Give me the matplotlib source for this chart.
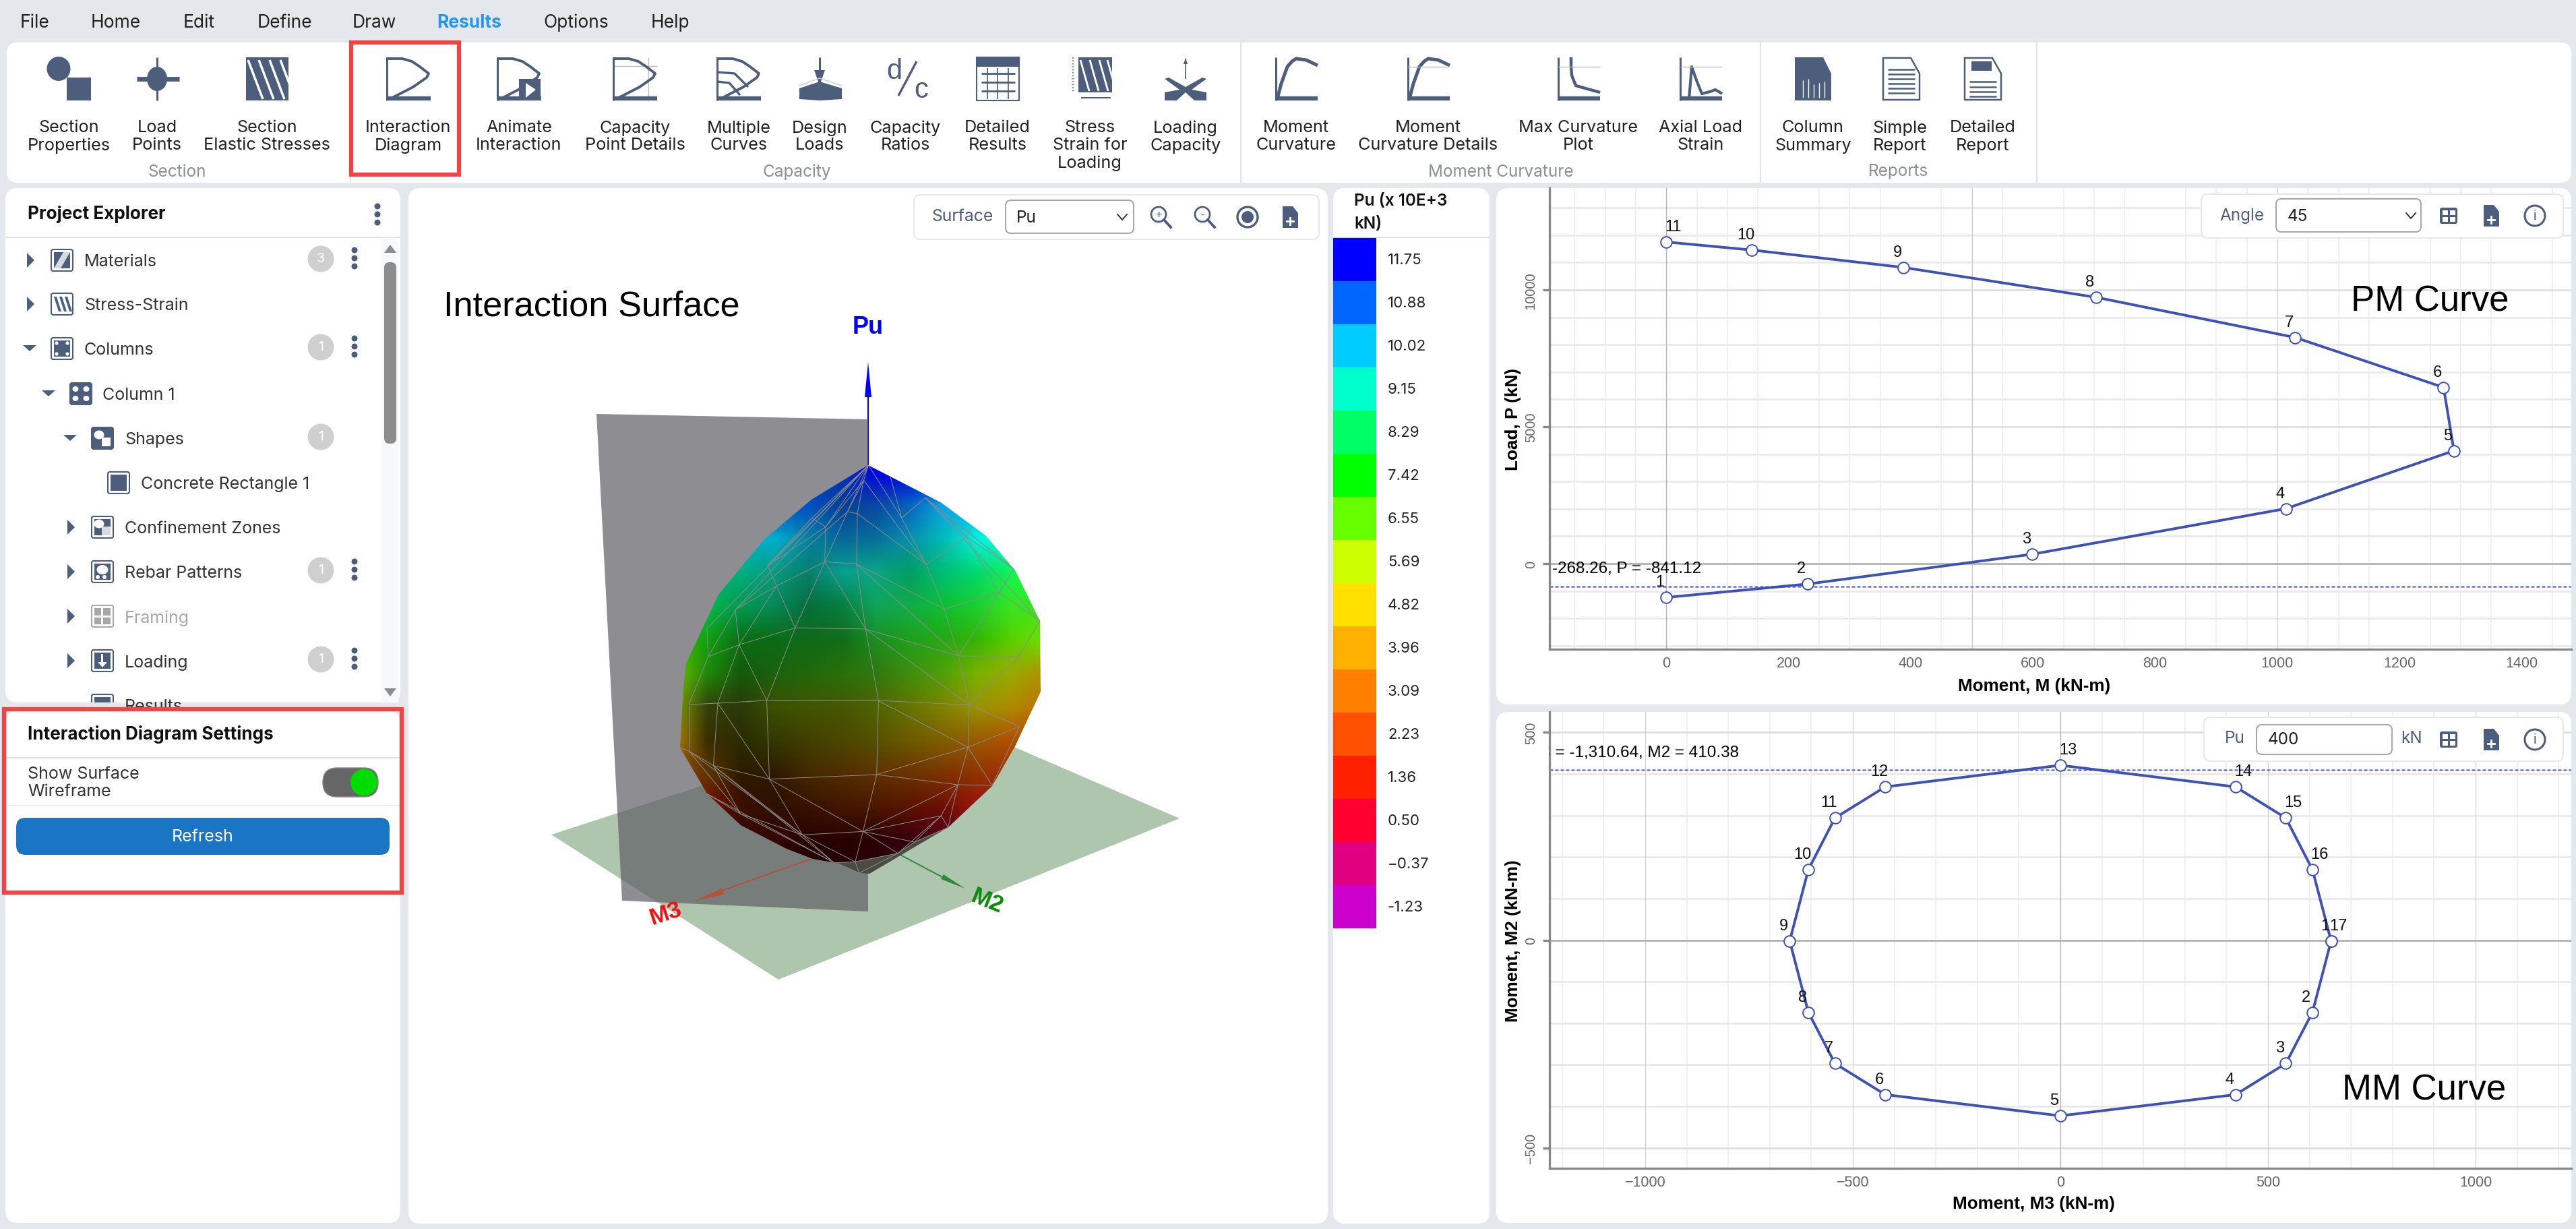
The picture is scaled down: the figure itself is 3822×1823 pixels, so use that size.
import matplotlib
matplotlib.use("Agg")
import matplotlib.pyplot as plt
import numpy as np
from matplotlib.patches import Rectangle, FancyBboxPatch, Polygon, Circle, Ellipse
from matplotlib.ticker import MultipleLocator

W, H = 3823, 1824
UI_FONT = ["Inter", "DejaVu Sans"]
CH_FONT = ["Liberation Sans", "DejaVu Sans"]
SLATE = "#4d5e7c"
BG = "#e4e7ec"
RED = "#f44343"
LINE = "#3f51b5"

# PM curve, angle 45
pm_moment = [0, 231, 599, 1014, 1289, 1272, 1029, 703, 388, 140, 0]
pm_load = [-1236, -747, 343, 2007, 4125, 6438, 8262, 9731, 10820, 11457, 11750]
pm_labels = ["1", "2", "3", "4", "5", "6", "7", "8", "9", "10", "11"]
pm_xticks = [0, 200, 400, 600, 800, 1000, 1200, 1400]
pm_yticks = [0, 5000, 10000]

# MM curve, Pu = 400
mm_m3 = [652, 607, 543, 422, 0, -422, -543, -607, -652, -607, -543, -422, 0, 422, 543, 607, 652]
mm_m2 = [-2, -174, -297, -372, -423, -372, -297, -174, -2, 170, 294, 369, 421, 369, 294, 170, -2]
mm_labels = [str(i) for i in range(1, 18)]
mm_xticks = [-1000, -500, 0, 500, 1000]
mm_yticks = [-500, 0, 500]

legend_values = ["11.75", "10.88", "10.02", "9.15", "8.29", "7.42", "6.55", "5.69", "4.82",
                 "3.96", "3.09", "2.23", "1.36", "0.50", "\u22120.37", "-1.23"]
legend_colors = ["#0000ff", "#0066ff", "#00ccff", "#00ffcc", "#00ff66", "#00ff00", "#66ff00", "#ccff00",
                 "#ffe000", "#ffb000", "#ff8000", "#ff5000", "#ff2000", "#ff0030", "#e00080", "#cc00cc"]

menu_items = [("File", 52), ("Home", 172), ("Edit", 295), ("Define", 422), ("Draw", 555),
              ("Results", 696), ("Options", 855), ("Help", 994)]
ribbon_buttons = [
    (102, ["Section", "Properties"]), (233, ["Load", "Points"]), (396, ["Section", "Elastic Stresses"]),
    (606, ["Interaction", "Diagram"]), (770, ["Animate", "Interaction"]), (942, ["Capacity", "Point Details"]),
    (1096, ["Multiple", "Curves"]), (1216, ["Design", "Loads"]), (1343, ["Capacity", "Ratios"]),
    (1480, ["Detailed", "Results"]), (1617, ["Stress", "Strain for", "Loading"]), (1759, ["Loading", "Capacity"]),
    (1923, ["Moment", "Curvature"]), (2119, ["Moment", "Curvature Details"]), (2342, ["Max Curvature", "Plot"]),
    (2523, ["Axial Load", "Strain"]), (2690, ["Column", "Summary"]), (2819, ["Simple", "Report"]),
    (2942, ["Detailed", "Report"])]
ribbon_groups = [("Section", 263), ("Capacity", 1182), ("Moment Curvature", 2227), ("Reports", 2817)]

# label, indent of text, arrow x, arrow kind, icon x, badge, dots, row y
tree_rows = [
    ("Materials", 125, 45, ">", 92, "3", True, 387),
    ("Stress-Strain", 125, 45, ">", 92, "", False, 452),
    ("Columns", 125, 44, "v", 92, "1", True, 518),
    ("Column 1", 152, 72, "v", 120, "", False, 585),
    ("Shapes", 185, 104, "v", 152, "1", False, 651),
    ("Concrete Rectangle 1", 209, 0, "", 176, "", False, 717),
    ("Confinement Zones", 185, 105, ">", 152, "", False, 783),
    ("Rebar Patterns", 185, 105, ">", 152, "1", True, 849),
    ("Framing", 185, 105, ">", 152, "", False, 915),
    ("Loading", 185, 105, ">", 152, "1", True, 981),
    ("Results", 185, 105, "", 152, "", False, 1047)]

# surface outline and colours
surface_outline = [(1288, 691), (1374, 735), (1397, 747), (1428, 770), (1462, 795), (1506, 847), (1543, 922),
                   (1544, 1027), (1506, 1108), (1472, 1167), (1407, 1228), (1357, 1250), (1332, 1267), (1269, 1279),
                   (1240, 1281), (1206, 1275), (1167, 1260), (1099, 1225), (1049, 1178), (1009, 1110), (1014, 1020),
                   (1018, 985), (1066, 883), (1133, 802), (1204, 742)]
surface_under = [(1240, 1281), (1275, 1296), (1290, 1297), (1407, 1228), (1357, 1250), (1332, 1267), (1269, 1279)]
surface_colors = [
    ["#0030c0", "#0030c0", "#0030c0", "#0030c0", "#0030c0", "#0030c0", "#0000e0", "#0000e0", "#0000e0", "#0000e0", "#0000e0", "#0000e0"],
    ["#0050c8", "#0050c8", "#0050c8", "#0050c8", "#0050c8", "#053f96", "#0a46a4", "#0562bd", "#09a5e8", "#09a5e8", "#09a5e8", "#09a5e8"],
    ["#00b0d0", "#00b0d0", "#00b0d0", "#00b0d0", "#0680a0", "#06679a", "#06709a", "#0890b0", "#03bab8", "#00f5e0", "#00f5e0", "#00f5e0"],
    ["#00b080", "#00b080", "#00b080", "#069a80", "#08806c", "#08a090", "#0ba584", "#009e62", "#00bf78", "#02d870", "#12f552", "#12f552"],
    ["#05b84a", "#05b84a", "#009a50", "#078858", "#056e3c", "#087e3f", "#10a558", "#12ac4a", "#0cc030", "#1ad02f", "#38e520", "#38e520"],
    ["#40c000", "#10a010", "#0b6e14", "#0c6b15", "#0f6a1a", "#126d18", "#1b8e20", "#20a01c", "#28a815", "#36b405", "#58d000", "#70e000"],
    ["#70c000", "#1f8a08", "#125a0a", "#1c620e", "#20680a", "#2a700a", "#307810", "#3f8e0e", "#50a008", "#78b200", "#9aaa00", "#b09000"],
    ["#80a000", "#34400a", "#2b3a08", "#3d5000", "#425600", "#465700", "#506400", "#657400", "#808300", "#979400", "#ae8a00", "#c07000"],
    ["#b08000", "#3a2e00", "#2c2c00", "#333800", "#423f00", "#4b4700", "#565000", "#6d5a00", "#7f5e00", "#9a5a00", "#b04e00", "#b04e00"],
    ["#a04000", "#5d3600", "#2b1a00", "#2e1a00", "#452800", "#512c00", "#5e3200", "#6b3200", "#7c3200", "#8e3200", "#a03000", "#a03000"],
    ["#800800", "#800800", "#3b0e00", "#2d1000", "#381000", "#421600", "#4a1500", "#5a1200", "#6c0d05", "#a01010", "#a01010", "#a01010"],
    ["#380505", "#380505", "#380505", "#380505", "#240000", "#280000", "#2a0005", "#350010", "#500020", "#500020", "#500020", "#500020"],
    ["#240000", "#240000", "#240000", "#240000", "#240000", "#240000", "#2a0005", "#350010", "#500020", "#500020", "#500020", "#500020"]]

# wireframe, top half and lower half, in crop coordinates of the surface
top_nodes = dict(A=(806, 63), B=(788, 130), C=(725, 270), D=(763, 278), E=(640, 338), F=(587, 298), G=(637, 493),
                 H=(760, 503), I=(450, 600), J=(415, 510), K=(290, 707), L=(305, 862), M=(185, 915), N=(522, 787),
                 O=(795, 792), P=(412, 1110), Q=(845, 1110), R=(1197, 1130), S=(110, 1128), T=(222, 1122),
                 U=(1100, 703), V=(1155, 912), W=(1388, 918), X=(1313, 630), Y=(1030, 505), Z=(1185, 382),
                 a=(1027, 208), b=(935, 298), c=(1370, 525), d=(1470, 755), e=(1205, 340), f=(180, 790), g=(890, 110))
top_edges = ["AB", "AC", "AJ", "AK", "Af", "AE", "AF", "BC", "BD", "BE", "BY", "Ab", "gb", "bY", "ba", "YZ", "Ze", "aZ",
             "ZX", "Xc", "Zc", "XU", "XV", "Xd", "VW", "Wd", "DY", "DH", "CD", "CG", "EG", "EF", "EJ", "GH", "GN", "GI",
             "GO", "HO", "HU", "HV", "IJ", "IN", "IK", "IL", "KL", "KC", "KM", "LM", "LN", "LT", "LP", "NP", "NO", "OQ",
             "OV", "OR", "UV", "UY", "VR", "WR", "PQ", "QR", "ST", "TP", "SM", "Mf", "FJ", "ad", "ac"]
low_nodes = dict(P=(412, 122), Q=(845, 122), R=(1197, 140), S=(110, 140), T=(222, 132), a=(205, 410), b=(422, 470),
                 c=(838, 450), d=(1192, 328), e=(1392, 235), f=(1153, 495), g=(1285, 498), h=(785, 703), i=(550, 718),
                 j=(1088, 633), k=(1115, 685), l=(310, 625), m=(180, 535), n=(110, 345), o=(75, 330), p=(670, 840),
                 q=(755, 838), r=(920, 800), s=(985, 750), t=(770, 888), u=(680, 842))
low_edges = ["Sn", "Pb", "Qc", "Rd", "Re", "ed", "Qd", "cd", "bc", "ab", "Ta", "Tb", "an", "no", "dg", "df", "eg", "cf",
             "fg", "fh", "ch", "bh", "bi", "ih", "ai", "al", "ap", "nl", "ni", "li", "ml", "lp", "ip", "iq", "hq", "hj",
             "fj", "fk", "jk", "js", "hs", "hr", "jr", "qr", "rs", "uq", "qt", "rt", "ut", "pu", "mp", "ks"]

fig = plt.figure(figsize=(W / 100, H / 100), dpi=100, facecolor=BG)


def pixel_axes(z):
    a = fig.add_axes([0, 0, 1, 1], zorder=z, facecolor="none")
    a.set_xlim(0, W)
    a.set_ylim(H, 0)
    a.axis("off")
    return a


ui = pixel_axes(0)
top = pixel_axes(5)


def panel(ax, x0, y0, x1, y1, r=18, fc="white", ec="none", lw=0, z=1):
    p = FancyBboxPatch((x0 + r, y0 + r), x1 - x0 - 2 * r, y1 - y0 - 2 * r, boxstyle=f"round,pad={r},rounding_size={r}",
                       fc=fc, ec=ec, lw=lw, zorder=z)
    ax.add_patch(p)
    return p


def label(ax, x, y, s, size=18, color="#1c1c1c", ha="left", va="center", family=UI_FONT, **kw):
    return ax.text(x, y + 2, s, fontsize=size, color=color, ha=ha, va=va, family=family, **kw)


def seg(ax, xs, ys, color=SLATE, lw=2.0, z=3, **kw):
    ax.plot(xs, ys, color=color, lw=lw, zorder=z, solid_capstyle="butt", **kw)


# ---- menu and ribbon
for name, x in menu_items:
    label(ui, x, 32, name, 19, "#2196f3" if name == "Results" else "#222222", ha="center",
          fontweight="bold" if name == "Results" else "normal")
panel(ui, 10, 64, 3815, 272, r=16)
for x in [520, 1841, 2612, 3022]:
    seg(ui, [x, x], [64, 272], color="#dcdfe4", lw=1.2)
for cx, lines in ribbon_buttons:
    for i, s in enumerate(lines):
        label(ui, cx, 188 + i * 26, s, 18.2, "#222222", ha="center")
for s, x in ribbon_groups:
    label(ui, x, 253, s, 17.5, "#8c9096", ha="center")
ui.add_patch(Rectangle((521, 64), 160, 196, fc="none", ec=RED, lw=4.5, zorder=4))


def curve_icon(cx, w=66):
    x0 = cx - w / 2
    seg(ui, [x0 + 1.5, x0 + 1.5], [86, 150], lw=2.2)
    seg(ui, [x0, x0 + w], [147, 147], lw=4.5)
    xs = x0 + np.array([0, 24, 38, 50, 63, 60, 40, 5])
    ys = np.array([88, 88, 92, 100, 110, 116, 130, 148])
    seg(ui, xs, ys, lw=2.8)


def moment_icon(cx, kind="curve"):
    x0 = cx - 30
    seg(ui, [x0, x0], [86, 150], lw=2.2)
    seg(ui, [x0, x0 + 62], [147, 147], lw=4.5)
    if kind == "curve":
        seg(ui, x0 + np.array([2, 8, 17, 24, 30, 45, 62]), [148, 125, 100, 92, 88, 90, 98], lw=3.6)
    elif kind == "max":
        seg(ui, x0 + np.array([19, 19, 20, 26, 40, 62]), [86, 100, 113, 128, 132, 138], lw=3.2)
    else:
        seg(ui, x0 + np.array([13, 17, 24, 32, 44, 52, 62]), [148, 100, 120, 140, 137, 134, 140], lw=3.0)
    if kind != "curve":
        seg(ui, [x0, x0 + 62], [100, 100], color="#b8bdc6", lw=1)


# section properties
ui.add_patch(Ellipse((87, 103), 35, 36, fc=SLATE, zorder=3))
ui.add_patch(Rectangle((99, 116), 36, 34, fc=SLATE, zorder=3))
# load points
seg(ui, [233, 233], [86, 150], lw=2.2)
seg(ui, [203, 266], [118, 118], lw=5)
ui.add_patch(Ellipse((233, 118), 30, 36, fc=SLATE, zorder=3))
# section elastic stresses
ui.add_patch(Rectangle((365, 86), 63, 64, fc=SLATE, zorder=3))
for dx in [0, 16, 32, 48]:
    seg(ui, [368 + dx, 390 + dx], [90, 148], color="white", lw=2.5, z=4, clip_on=True)
curve_icon(606)
curve_icon(770)
ui.add_patch(Rectangle((770, 118), 32, 32, fc=SLATE, zorder=3))
ui.add_patch(Polygon([(780, 124), (795, 134), (780, 146)], fc="white", zorder=4))
curve_icon(942)
seg(ui, [962, 962], [86, 150], color="#b8bdc6", lw=1, z=2)
seg(ui, [910, 975], [99, 99], color="#b8bdc6", lw=1, z=2)
curve_icon(1096)
seg(ui, [1064, 1090, 1110], [108, 110, 130], lw=2.4)
seg(ui, [1064, 1082, 1098], [122, 124, 142], lw=2.4)
# design loads
seg(ui, [1216, 1216], [86, 120], lw=2.2)
ui.add_patch(Polygon([(1208, 105), (1224, 105), (1216, 128)], fc=SLATE, zorder=3))
seg(ui, [1186, 1216, 1249], [128, 117, 128], color="#c8ccd2", lw=1)
ui.add_patch(Polygon([(1186, 132), (1216, 122), (1249, 132), (1249, 148), (1217, 150), (1186, 148)], fc=SLATE, zorder=3))
# d/c
label(ui, 1327, 104, "d", 30, SLATE, ha="center", family=CH_FONT)
seg(ui, [1360, 1333], [92, 143], lw=2.4)
label(ui, 1367, 132, "c", 30, SLATE, ha="center", family=CH_FONT)
# detailed results
ui.add_patch(Rectangle((1449, 86), 63, 64, fc="white", ec=SLATE, lw=1.5, zorder=3))
ui.add_patch(Rectangle((1449, 86), 63, 14, fc=SLATE, zorder=3))
for y in [110, 123, 136]:
    seg(ui, [1456, 1506], [y, y], lw=2, z=4)
for x in [1465, 1480, 1496]:
    seg(ui, [x, x], [102, 148], lw=1.2, z=4)
# stress strain for loading
ui.add_patch(Rectangle((1600, 86), 50, 52, fc=SLATE, zorder=3))
for dx in [0, 14, 28, 40]:
    seg(ui, [1603 + dx, 1616 + dx], [90, 136], color="white", lw=2, z=4)
seg(ui, [1592, 1592], [86, 138], lw=1.2, ls=":")
seg(ui, [1604, 1648], [146, 146], lw=1.5)
# loading capacity
seg(ui, [1759, 1759], [88, 118], lw=1.2)
ui.add_patch(Polygon([(1756, 96), (1759, 87), (1762, 96)], fc=SLATE, zorder=3))
ui.add_patch(Polygon([(1728, 118), (1734, 116), (1759, 130), (1784, 116), (1790, 118), (1768, 134), (1790, 138), (1790, 150),
                      (1772, 150), (1759, 138), (1746, 150), (1728, 150), (1728, 138), (1750, 134)], fc=SLATE, zorder=3))
moment_icon(1923)
moment_icon(2119)
seg(ui, [2089, 2150], [100, 100], color="#b8bdc6", lw=1)
moment_icon(2342, "max")
moment_icon(2523, "axial")
# report icons
ui.add_patch(Polygon([(2663, 86), (2705, 86), (2717, 110), (2717, 150), (2663, 150)], fc=SLATE, zorder=3))
for dx in [12, 20, 28, 36, 44]:
    seg(ui, [2663 + dx, 2663 + dx], [118 + (dx % 10), 146], color="white", lw=1, z=4)
for cx in [2821, 2942]:
    ui.add_patch(Polygon([(cx - 27, 87), (cx + 14, 87), (cx + 27, 110), (cx + 27, 149), (cx - 27, 149)], fc="white", ec=SLATE, lw=1.8, zorder=3))
    ys = [122, 130, 137, 144] if cx == 2942 else [104, 111, 118, 125, 132, 139]
    for y in ys:
        seg(ui, [cx - 20, cx + 20], [y, y], lw=1.8, z=4)
ui.add_patch(Rectangle((2925, 92), 30, 14, fc=SLATE, zorder=4))

# ---- left panels
explorer = panel(ui, 8, 280, 594, 1043)
seg(ui, [8, 594], [353, 353], color="#dfe2e6", lw=1.5)
label(ui, 41, 316, "Project Explorer", 18.8, "#111111", fontweight="bold")


def dots(x, y):
    for dy in [-12, 0, 12]:
        ui.add_patch(Circle((x, y + dy), 4.5, fc=SLATE, zorder=3))


def tree_icon(name, ix, y, c):
    """small square icon of a tree row, the glyph depends on the row"""
    parts = []
    solid = name in ("Column 1", "Shapes")
    parts.append(FancyBboxPatch((ix - 16, y - 16), 32, 32, boxstyle="round,pad=0,rounding_size=3",
                                fc=c if solid else "white", ec=c, lw=1.5, zorder=3))
    if not solid and name != "Stress-Strain":
        parts.append(Rectangle((ix - 12, y - 12), 24, 24, fc=c, zorder=4))
    if name == "Materials":
        parts.append(Polygon([(ix - 12, y + 12), (ix + 2, y - 12), (ix + 12, y - 12), (ix - 2, y + 12)], fc="#d6dbe3", zorder=5))
    elif name == "Stress-Strain":
        for dx in [-10, -2, 6]:
            parts.append(Polygon([(ix + dx - 2, y - 11), (ix + dx + 2, y - 11), (ix + dx + 9, y + 11), (ix + dx + 5, y + 11)], fc=c, zorder=4))
    elif name == "Columns":
        for ddx, ddy in [(-8, -8), (8, -8), (-8, 8), (8, 8)]:
            parts.append(Circle((ix + ddx, y + ddy), 2.6, fc="white", zorder=5))
    elif name == "Column 1":
        for ddx, ddy in [(-8, -7), (8, -7), (-8, 7), (8, 7)]:
            parts.append(Ellipse((ix + ddx, y + ddy), 9, 8, fc="white", zorder=5))
    elif name in ("Shapes", "Confinement Zones"):
        parts.append(Ellipse((ix - 5, y - 5), 15, 13, fc="white", zorder=5))
        parts.append(Rectangle((ix - 1, y - 1), 13, 13, fc="white" if name == "Shapes" else "#d6dbe3", zorder=6))
    elif name == "Rebar Patterns":
        parts.append(Ellipse((ix, y - 3), 17, 14, fc="white", zorder=5))
        parts.append(Circle((ix - 7, y + 8), 3, fc="white", zorder=5))
        parts.append(Circle((ix + 3, y + 8), 3, fc="white", zorder=5))
    elif name == "Framing":
        parts.append(Rectangle((ix - 13, y - 1.5), 26, 3, fc="white", zorder=5))
        parts.append(Rectangle((ix - 1.5, y - 13), 3, 26, fc="white", zorder=5))
    elif name == "Loading":
        parts.append(Rectangle((ix - 1.5, y - 10), 3, 14, fc="white", zorder=5))
        parts.append(Polygon([(ix - 7, y + 2), (ix + 7, y + 2), (ix, y + 10)], fc="white", zorder=5))
    for p in parts:
        ui.add_patch(p)
        p.set_clip_path(explorer)


dots(560, 319)
ui.add_patch(Rectangle((566, 355), 25, 688, fc="#f7f8f9", zorder=2))
panel(ui, 570, 390, 588, 659, r=8, fc="#8c8c8c", z=3)
ui.add_patch(Polygon([(570, 376), (579, 364), (588, 376)], fc="#8c8c8c", zorder=3))
ui.add_patch(Polygon([(570, 1022), (579, 1034), (588, 1022)], fc="#8c8c8c", zorder=3))
for name, tx, ax_x, kind, ix, badge, has_dots, y in tree_rows:
    grey = name == "Framing"
    c = "#a8a8a8" if grey else "#333333"
    t = label(ui, tx, y, name, 18, c, clip_on=True)
    t.set_clip_path(explorer)
    if kind == ">":
        ui.add_patch(Polygon([(ax_x - 5, y - 11), (ax_x + 6, y), (ax_x - 5, y + 11)], fc=SLATE, zorder=3))
    elif kind == "v":
        ui.add_patch(Polygon([(ax_x - 10, y - 5), (ax_x + 10, y - 5), (ax_x, y + 4)], fc=SLATE, zorder=3))
    tree_icon(name, ix, y, "#a8a8a8" if grey else SLATE)
    if badge:
        ui.add_patch(Circle((476, y - 2), 19.5, fc="#cfcfcf", zorder=3))
        label(ui, 476, y - 5, badge, 14, "white", ha="center", zorder=4)
    if has_dots:
        dots(526, y - 3)

panel(ui, 8, 1056, 594, 1815)
seg(ui, [8, 594], [1125, 1125], color="#dfe2e6", lw=1.5)
seg(ui, [8, 594], [1196, 1196], color="#eceef0", lw=1.2)
label(ui, 41, 1088, "Interaction Diagram Settings", 18.8, "#111111", fontweight="bold")
label(ui, 41, 1147, "Show Surface", 18, "#333333")
label(ui, 41, 1173, "Wireframe", 18, "#333333")
panel(ui, 479, 1140, 561, 1183, r=21, fc="#666666", ec="#8a8a8a", lw=1, z=3)
ui.add_patch(Circle((540, 1161.5), 20, fc="#00dc00", zorder=4))
panel(ui, 24, 1214, 578, 1269, r=14, fc="#1a75c4", z=3)
label(ui, 301, 1240, "Refresh", 18, "white", ha="center", zorder=4)
ui.add_patch(Rectangle((6, 1053), 590, 272, fc="none", ec=RED, lw=4.5, zorder=4))

# ---- 3D surface panel
panel(ui, 606, 280, 1970, 1816)
panel(ui, 1978, 280, 2210, 1816)
ui.add_patch(Polygon([(818, 1239), (1382, 1056), (1750, 1215), (1155, 1454)], fc="#afc6ae", zorder=2))
ui.add_patch(Polygon([(885, 615), (1288, 623), (1288, 1353), (923, 1337)], fc="#605f66", alpha=0.71, zorder=2.5))
seg(ui, [1288, 1288], [590, 700], color="#0000ff", lw=1.5, z=2.2)
ui.add_patch(Polygon([(1288, 538), (1283, 590), (1293, 590)], fc="#0000ff", zorder=2.2))
seg(ui, [1204, 1060], [1275, 1326], color="#b5533a", lw=1.4, z=2.8)
ui.add_patch(Polygon([(1032, 1337), (1072, 1318), (1074, 1328)], fc="#b5533a", zorder=2.8))
seg(ui, [1332, 1400], [1267, 1303], color="#2e8b3a", lw=1.4, z=2.8)
ui.add_patch(Polygon([(1432, 1319), (1400, 1298), (1396, 1305)], fc="#2e8b3a", zorder=2.8))
label(ui, 1288, 484, "Pu", 26, "#0000ff", ha="center", family=CH_FONT, fontweight="bold")
label(ui, 988, 1353, "M3", 25, "#ee1111", ha="center", family=CH_FONT, fontweight="bold", rotation=18)
label(ui, 1465, 1335, "M2", 25, "#0a8a0a", ha="center", family=CH_FONT, fontweight="bold", rotation=-22)
ui.add_patch(Polygon(surface_under, fc="#4b4b42", zorder=3))

rgb = np.array([[matplotlib.colors.to_rgb(c) for c in row] for row in surface_colors])
surf = ui.imshow(rgb, extent=(975, 1575, 1325, 675), interpolation="bilinear", aspect="auto", zorder=3.2)
outline = Polygon(surface_outline, transform=ui.transData, fc="none", ec="none")
ui.add_patch(outline)
surf.set_clip_path(outline)
ui.set_xlim(0, W)
ui.set_ylim(H, 0)
for name_list, nodes, oy in [(top_edges, top_nodes, 670), (low_edges, low_nodes, 1000)]:
    for e in name_list:
        p, q = nodes[e[0]], nodes[e[1]]
        seg(ui, [980 + p[0] / 2.613, 980 + q[0] / 2.613], [oy + p[1] / 3, oy + q[1] / 3], color="#8c8c8c", lw=0.7, z=3.4)
label(ui, 658, 453, "Interaction Surface", 37.7, "#000000", family=CH_FONT)


# toolbar helper icons
def table_icon(a, cx, cy):
    a.add_patch(FancyBboxPatch((cx - 13, cy - 12), 26, 24, boxstyle="round,pad=0,rounding_size=3", fc=SLATE, ec="none", zorder=7))
    for dx, dy in [(-9, -8), (2, -8), (-9, 2), (2, 2)]:
        a.add_patch(Rectangle((cx + dx, cy + dy), 8, 7, fc="white", zorder=8))


def doc_icon(a, cx, cy):
    a.add_patch(Polygon([(cx - 11, cy - 16), (cx + 4, cy - 16), (cx + 12, cy - 6), (cx + 12, cy + 16), (cx - 11, cy + 16)], fc=SLATE, zorder=7))
    a.plot([cx - 5, cx + 5], [cy + 6, cy + 6], color="white", lw=2, zorder=8)
    a.plot([cx, cx], [cy + 1, cy + 11], color="white", lw=2, zorder=8)


def info_icon(a, cx, cy):
    a.add_patch(Circle((cx, cy), 15, fc="none", ec=SLATE, lw=2.2, zorder=7))
    a.text(cx, cy, "i", fontsize=15, color=SLATE, ha="center", va="center", zorder=8, family=CH_FONT)


def mag_icon(a, cx, cy, sign):
    a.add_patch(Circle((cx - 3, cy - 3), 11, fc="white", ec=SLATE, lw=2, zorder=7))
    a.plot([cx + 5, cx + 15], [cy + 5, cy + 16], color=SLATE, lw=2.8, zorder=7)
    a.text(cx - 3, cy - 3, sign, fontsize=12, color=SLATE, ha="center", va="center", zorder=8, family=CH_FONT)


def chevron(a, cx, cy):
    a.plot([cx - 7, cx, cx + 7], [cy - 4, cy + 4, cy - 4], color="#333333", lw=1.4, zorder=8)


def toolbar(a, x0, y0, x1, y1):
    panel(a, x0, y0, x1, y1, r=10, fc="white", ec="#e6e8eb", lw=1.5, z=6)


def field(a, x0, y0, x1, y1):
    panel(a, x0, y0, x1, y1, r=8, fc="white", ec="#a9a9a9", lw=1.5, z=7)


toolbar(top, 1356, 290, 1957, 356)
label(top, 1428, 319, "Surface", 17.8, SLATE, ha="center", zorder=8)
field(top, 1492, 298, 1682, 347)
label(top, 1508, 321, "Pu", 17.5, "#222222", zorder=8)
chevron(top, 1665, 323)
mag_icon(top, 1722, 322, "+")
mag_icon(top, 1787, 322, "-")
top.add_patch(Circle((1851, 323), 15, fc="none", ec=SLATE, lw=2.4, zorder=7))
top.add_patch(Circle((1851, 323), 9, fc=SLATE, zorder=7))
doc_icon(top, 1914, 323)

# ---- colour legend
label(ui, 2009, 297, "Pu (x 10E+3", 17.5, "#111111", fontweight="semibold")
label(ui, 2009, 330, "kN)", 17.5, "#111111", fontweight="semibold")
seg(ui, [1978, 2210], [353, 353], color="#dfe2e6", lw=1.5)
leg = fig.add_axes([1978 / W, 1 - 1378 / H, 64 / W, 1024 / H], zorder=2)
leg.bar([0] * len(legend_colors), [1] * len(legend_colors), bottom=np.arange(len(legend_colors)), width=1,
        color=legend_colors, align="center")
leg.set_xlim(-0.5, 0.5)
leg.set_ylim(len(legend_colors), 0)
leg.axis("off")
for i, s in enumerate(legend_values):
    leg.annotate(s, (1, i + 0.5), xycoords=("axes fraction", "data"), xytext=(17, 0), textcoords="offset pixels",
                 fontsize=16, color="#222222", va="center", family=UI_FONT)


# ---- PM and MM charts
def chart_axes(x0, y0, x1, y1):
    a = fig.add_axes([x0 / W, 1 - y1 / H, (x1 - x0) / W, (y1 - y0) / H], zorder=3, facecolor="none")
    for s in ["top", "right"]:
        a.spines[s].set_visible(False)
    for s in ["left", "bottom"]:
        a.spines[s].set_color("#888888")
        a.spines[s].set_linewidth(2.4)
    a.set_axisbelow(True)
    return a


def finish_axes(a, xt, yt, xminor, yminor, xlab, ylab, xmajor_lines):
    a.set_xticks(xt)
    a.set_yticks(yt)
    a.xaxis.set_minor_locator(MultipleLocator(xminor))
    a.yaxis.set_minor_locator(MultipleLocator(yminor))
    a.grid(which="minor", axis="x", color="#ececec", lw=1.1)
    a.grid(which="minor", axis="y", color="#e8e8e8", lw=1.8)
    a.grid(which="major", axis="y", color="#dcdcdc", lw=1.8)
    a.tick_params(which="minor", length=0)
    a.tick_params(axis="x", which="major", length=0, pad=7, labelsize=15.5, labelcolor="#666666")
    a.tick_params(axis="y", which="major", length=7, width=2.4, color="#888888", pad=6, labelsize=14.5, labelcolor="#666666")
    for t in a.get_xticklabels() + a.get_yticklabels():
        t.set_family(CH_FONT)
    for t in a.get_yticklabels():
        t.set_rotation(90)
        t.set_va("center")
    for v in xmajor_lines:
        a.axvline(v, color="#d0d0d0", lw=0.9, zorder=1)
    a.axvline(0, color="#b0b0b0", lw=0.9, zorder=1.1)
    a.axhline(0, color="#b0b0b0", lw=1.8, zorder=1.1)
    a.set_xlabel(xlab, fontsize=18.8, fontweight="bold", family=CH_FONT, va="center")
    a.set_ylabel(ylab, fontsize=18.8, fontweight="bold", family=CH_FONT, va="center")


panel(ui, 2220, 280, 3815, 1046)
panel(ui, 2220, 1057, 3815, 1815)

pm = chart_axes(2299, 280, 3815, 964)
pm.set_xlim(-191, 1481)
pm.set_ylim(-3128, 13719)
finish_axes(pm, pm_xticks, pm_yticks, 50, 1000, "Moment, M (kN-m)", "Load, P (kN)", [500, 1000])
pm.xaxis.set_label_coords(0.474, -0.079)
pm.yaxis.set_label_coords(-0.0356, 0.5)
pm.axhline(-841.12, color="#6a6af5", lw=1.8, ls=(0, (2, 1.2)), zorder=2)
pm.plot(pm_moment, pm_load, color=LINE, lw=2.8, marker="o", ms=12, mfc="white", mec=LINE, mew=1.4, zorder=3, clip_on=False)
for i, s in enumerate(pm_labels):
    pm.annotate(s, (pm_moment[i], pm_load[i]), xytext=(10 if s == "11" else -9, 23), textcoords="offset pixels",
                ha="center", va="center", fontsize=17, family=CH_FONT, color="#111111", zorder=4)
pm.text(57, -172, "M = -268.26, P = -841.12", ha="right", va="center", fontsize=17.5, family=CH_FONT, clip_on=True, zorder=4)

mm = chart_axes(2299, 1057, 3815, 1734)
mm.set_xlim(-1230.5, 1230.5)
mm.set_ylim(-549.5, 549.5)
finish_axes(mm, mm_xticks, mm_yticks, 100, 100, "Moment, M3 (kN-m)", "Moment, M2 (kN-m)", [-1000, -500, 500, 1000])
mm.xaxis.set_label_coords(0.474, -0.077)
mm.yaxis.set_label_coords(-0.0356, 0.5)
mm.axhline(410.38, color="#6a6af5", lw=1.8, ls=(0, (2, 1.2)), zorder=2)
mm.plot(mm_m3, mm_m2, color=LINE, lw=2.8, marker="o", ms=12, mfc="white", mec=LINE, mew=1.4, zorder=3)
for i, s in enumerate(mm_labels):
    mm.annotate(s, (mm_m3[i], mm_m2[i]), xytext=(-9 if i < 12 else 11, 23), textcoords="offset pixels",
                ha="center", va="center", fontsize=17, family=CH_FONT, color="#111111", zorder=4)
mm.text(-774, 452, "M3 = -1,310.64, M2 = 410.38", ha="right", va="center", fontsize=17.5, family=CH_FONT, clip_on=True, zorder=4)

label(top, 3605, 446, "PM Curve", 38, "#000000", ha="center", family=CH_FONT, zorder=8)
label(top, 3597, 1616, "MM Curve", 38, "#000000", ha="center", family=CH_FONT, zorder=8)

toolbar(top, 3266, 289, 3803, 354)
label(top, 3326, 318, "Angle", 17.5, SLATE, ha="center", zorder=8)
field(top, 3377, 296, 3592, 345)
label(top, 3394, 319, "45", 17.5, "#222222", zorder=8)
chevron(top, 3577, 321)
toolbar(top, 3270, 1065, 3803, 1130)
label(top, 3316, 1094, "Pu", 17.5, SLATE, ha="center", zorder=8)
field(top, 3348, 1076, 3549, 1120)
label(top, 3365, 1096, "400", 17.5, "#222222", zorder=8)
label(top, 3578, 1094, "kN", 17.5, SLATE, ha="center", zorder=8)
for cy in [321, 1098]:
    table_icon(top, 3633, cy)
    doc_icon(top, 3696, cy)
    info_icon(top, 3761, cy)

fig.savefig("out.png", dpi=100, facecolor=BG)
